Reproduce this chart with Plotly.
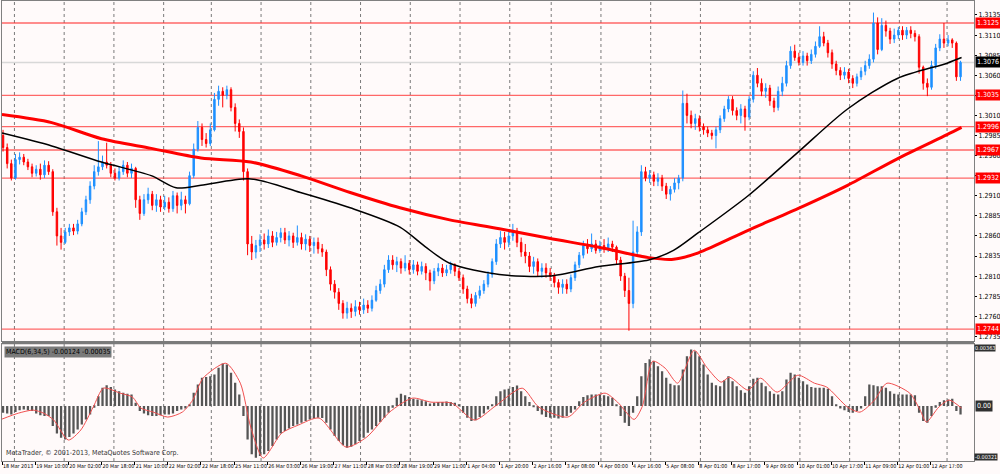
import plotly.graph_objects as go

# 2-hour candles, prices as pips above 1.2700
opens = [
    285, 270, 250, 232, 255, 258, 252, 246, 238, 243,
    236, 248, 240, 190, 160, 152, 165, 170, 166, 175,
    190, 205, 222, 240, 246, 252, 248, 238, 232, 240,
    248, 238, 244, 205, 188, 205, 212, 198, 205, 196,
    202, 194, 210, 198, 205, 200, 235, 268, 295, 280,
    275, 292, 330, 340, 335, 342, 320, 300, 290, 240,
    150, 140, 148, 155, 150, 160, 152, 158, 164, 155,
    160, 152, 158, 150, 156, 148, 152, 144, 140, 118,
    100, 90, 76, 64, 70, 66, 72, 68, 74, 70,
    80, 92, 100, 118, 130, 124, 128, 120, 126, 118,
    124, 116, 122, 114, 104, 116, 120, 114, 118, 124,
    116, 108, 94, 82, 76, 86, 92, 100, 112, 128,
    150, 158, 152, 160, 166, 152, 140, 135, 122, 128,
    116, 120, 114, 110, 102, 96, 100, 94, 108, 124,
    136, 148, 144, 150, 142, 148, 144, 150, 146, 130,
    110, 92, 76, 140, 165, 240, 232, 236, 228, 232,
    222, 212, 218, 226, 232, 325, 310, 300, 306, 296,
    292, 288, 285, 292, 306, 318, 330, 316, 310, 318,
    308, 330, 360, 350, 340, 344, 328, 320, 340, 350,
    372, 390, 382, 376, 384, 378, 386, 396, 408, 400,
    388, 374, 366, 360, 364, 356, 350, 358, 365, 372,
    380, 425, 392, 422, 415, 405, 410, 416, 410, 416,
    412, 408, 370, 350, 345, 372, 394, 405, 400, 404,
    400, 358,
]
highs = [
    292, 275, 255, 262, 264, 262, 256, 250, 248, 250,
    254, 253, 243, 195, 170, 170, 175, 175, 180, 195,
    210, 228, 248, 278, 260, 276, 252, 244, 246, 254,
    252, 250, 246, 210, 212, 220, 216, 212, 210, 210,
    208, 216, 214, 215, 210, 240, 275, 303, 300, 288,
    300, 338, 347, 345, 347, 345, 325, 305, 295, 244,
    160, 155, 162, 163, 168, 166, 165, 170, 170, 166,
    164, 173, 164, 162, 160, 158, 158, 150, 143, 122,
    105, 95, 80, 78, 76, 80, 78, 82, 80, 86,
    98, 106, 124, 136, 136, 134, 132, 136, 130, 130,
    128, 128, 126, 118, 120, 126, 125, 124, 128, 126,
    120, 112, 98, 88, 90, 98, 105, 116, 132, 156,
    166, 165, 167, 175, 170, 158, 150, 140, 134, 132,
    126, 126, 120, 114, 106, 106, 106, 112, 128, 140,
    154, 156, 163, 155, 154, 156, 158, 154, 148, 134,
    114, 108, 179, 172, 248, 246, 242, 240, 238, 236,
    226, 222, 232, 236, 341, 337, 316, 312, 310, 300,
    296, 292, 296, 310, 322, 334, 334, 320, 324, 322,
    334, 365, 369, 356, 350, 348, 332, 346, 358, 378,
    396, 398, 388, 390, 388, 392, 402, 421, 414, 404,
    392, 378, 370, 370, 368, 360, 362, 370, 378, 386,
    438, 432, 431, 428, 419, 418, 420, 421, 420, 421,
    416, 411, 372, 356, 378, 399, 411, 425, 410, 406,
    402, 378,
]
lows = [
    265, 244, 229, 230, 249, 248, 242, 233, 234, 230,
    232, 236, 185, 148, 143, 150, 160, 161, 162, 172,
    186, 200, 218, 235, 242, 244, 233, 229, 229, 236,
    233, 232, 195, 180, 185, 200, 192, 190, 190, 192,
    189, 190, 188, 192, 188, 198, 232, 265, 272, 270,
    272, 290, 322, 320, 330, 315, 290, 282, 229, 136,
    130, 132, 140, 143, 145, 146, 148, 152, 150, 147,
    145, 148, 143, 142, 140, 138, 138, 134, 110, 92,
    82, 68, 57, 57, 58, 60, 62, 63, 64, 66,
    78, 88, 96, 114, 118, 115, 113, 116, 112, 113,
    111, 112, 105, 92, 100, 110, 109, 110, 113, 110,
    104, 88, 76, 70, 72, 82, 88, 96, 108, 124,
    145, 143, 146, 154, 146, 134, 126, 115, 113, 110,
    108, 108, 104, 96, 88, 88, 88, 90, 104, 120,
    132, 138, 140, 138, 139, 139, 140, 140, 124, 104,
    84, 42, 70, 135, 160, 228, 226, 222, 222, 216,
    206, 204, 214, 218, 228, 300, 294, 292, 290, 286,
    283, 280, 269, 288, 302, 314, 310, 304, 300, 291,
    304, 326, 345, 334, 332, 322, 314, 316, 334, 346,
    368, 378, 372, 372, 372, 374, 382, 394, 396, 382,
    368, 360, 354, 355, 350, 344, 346, 354, 360, 368,
    376, 386, 390, 408, 399, 400, 405, 404, 405, 406,
    402, 362, 342, 334, 342, 368, 390, 394, 396, 394,
    353, 353,
]
closes = [
    270, 250, 232, 255, 258, 252, 246, 238, 243, 236,
    248, 240, 190, 160, 152, 165, 170, 166, 175, 190,
    205, 222, 240, 246, 252, 248, 238, 232, 240, 248,
    238, 244, 205, 188, 205, 212, 198, 205, 196, 202,
    194, 210, 198, 205, 200, 235, 268, 295, 280, 275,
    292, 330, 340, 335, 342, 320, 300, 290, 240, 150,
    140, 148, 155, 150, 160, 152, 158, 164, 155, 160,
    152, 158, 150, 156, 148, 152, 144, 140, 118, 100,
    90, 76, 64, 70, 66, 72, 68, 74, 70, 80,
    92, 100, 118, 130, 124, 128, 120, 126, 118, 124,
    116, 122, 114, 104, 116, 120, 114, 118, 124, 116,
    108, 94, 82, 76, 86, 92, 100, 112, 128, 150,
    158, 152, 160, 166, 152, 140, 135, 122, 128, 116,
    120, 114, 110, 102, 96, 100, 94, 108, 124, 136,
    148, 144, 150, 142, 148, 144, 150, 146, 130, 110,
    92, 76, 140, 165, 240, 232, 236, 228, 232, 222,
    212, 218, 226, 232, 325, 310, 300, 306, 296, 292,
    288, 285, 292, 306, 318, 330, 316, 310, 318, 308,
    330, 360, 350, 340, 344, 328, 320, 340, 350, 372,
    390, 382, 376, 384, 378, 386, 396, 408, 400, 388,
    374, 366, 360, 364, 356, 350, 358, 365, 372, 380,
    425, 392, 422, 415, 405, 410, 416, 410, 416, 412,
    408, 370, 350, 345, 372, 394, 405, 400, 404, 400,
    358, 376,
]

# MACD histogram per 2-hour candle, in 1e-5
macd_hist = [
    -40, -45, -50, -35, -25, -20, -25, -30, -45, -55,
    -60, -60, -120, -165, -190, -200, -185, -165, -140, -110,
    -80, -50, -10, 60, 110, 126, 115, 100, 90, 80,
    75, 70, 20, -30, -45, -55, -60, -60, -55, -50,
    -50, -45, -30, -20, -15, 10, 80, 130, 170, 175,
    180, 190, 230, 256, 250, 200, 140, 70, -60, -200,
    -290, -310, -300, -290, -270, -240, -200, -165, -150, -135,
    -120, -110, -100, -90, -80, -75, -70, -72, -100, -140,
    -180, -210, -235, -250, -245, -230, -210, -190, -160, -140,
    -120, -95, -70, -40, -10, 50, 74, 65, 55, 45,
    40, 35, 30, 15, 20, 25, 25, 28, 25, 20,
    10, -40, -70, -90, -85, -65, -45, -20, 10, 60,
    90, 100, 105, 115, 124, 90, 60, 25, -5, -30,
    -50, -65, -70, -70, -75, -70, -60, -40, -20, 30,
    55, 65, 70, 70, 68, 65, 60, 50, 10, -60,
    -100, -120, -40, 60, 180, 260, 282, 270, 240, 210,
    170, 135, 125, 125, 220, 300, 340, 330, 300, 250,
    190, 140, 125, 120, 155, 180, 150, 120, 95, 80,
    120, 165, 170, 140, 120, 90, 75, 70, 90, 160,
    200, 190, 170, 150, 130, 115, 110, 110, 110, 105,
    60, 10, -15, -25, -35, -40, -30, -15, 60, 130,
    125, 120, 120, 110, 90, 75, 70, 70, 70, 70,
    65, -40, -90, -100, -60, -10, 25, 35, 40, 45,
    -30, -50,
]

# MACD signal line (hour bar, 1e-5)
signal_bars = [0, 8, 15, 20, 25, 32, 38, 44, 49, 57, 63, 67, 73, 80, 87, 92,
               97, 108, 115, 120, 126, 135, 143, 153, 166, 176, 187, 198, 207,
               217, 228, 238, 251, 259, 273, 281, 291, 297, 305, 309, 314, 320,
               326, 334, 340, 347, 351, 360, 366, 374, 384, 392, 398, 408, 414,
               421, 427, 438, 443, 446, 452, 457, 463]
signal_vals = [-78, -42, -24, -42, -84, -204, -144, -6, 108, 78, 54, -12, -36,
               -66, -36, 36, 168, 258, 138, -126, -312, -162, -114, -72, -246,
               -186, -36, 48, 24, 18, -84, 0, 108, -6, -66, 24, 78, 24, -80, 0,
               270, 228, 138, 336, 234, 144, 174, 96, 168, 84, 186, 138, 114,
               -6, -36, 36, 138, 78, -24, -96, -6, 36, -12]

# moving averages (hour bar, price)
ma_bars = [0, 24, 48, 72, 84, 96, 120, 144, 168, 192, 204, 216, 240, 264, 288,
           312, 324, 336, 360, 384, 408, 432, 456, 463]
ma_fast = [1.2988, 1.2972, 1.2952, 1.2935, 1.2920, 1.2923, 1.2931, 1.2914,
           1.2895, 1.2871, 1.2847, 1.2826, 1.2812, 1.2810, 1.2822, 1.2830,
           1.2842, 1.2864, 1.2910, 1.2964, 1.3018, 1.3056, 1.3075, 1.3082]
slow_bars = [0, 24, 48, 72, 96, 120, 144, 168, 192, 216, 240, 264, 288, 312,
             324, 336, 360, 384, 408, 432, 456, 463]
ma_slow = [1.3011, 1.3001, 1.2981, 1.2969, 1.2957, 1.2952, 1.2935, 1.2914,
           1.2895, 1.2880, 1.2869, 1.2857, 1.2846, 1.2833, 1.2831, 1.2839,
           1.2867, 1.2894, 1.2923, 1.2956, 1.2986, 1.2995]

level_prices = [1.3125, 1.3035, 1.2996, 1.2967, 1.2932, 1.2744]
last_price = 1.3076
macd_labels = ["0.00363", "0.00", "-0.00321"]

time_labels = ["18 Mar 2013", "19 Mar 10:00", "20 Mar 02:00", "20 Mar 18:00",
               "21 Mar 10:00", "22 Mar 02:00", "22 Mar 18:00", "25 Mar 11:00",
               "26 Mar 03:00", "26 Mar 19:00", "27 Mar 11:00", "28 Mar 03:00",
               "28 Mar 19:00", "29 Mar 11:00", "1 Apr 04:00", "1 Apr 20:00",
               "2 Apr 16:00", "3 Apr 08:00", "4 Apr 00:00", "4 Apr 16:00",
               "5 Apr 08:00", "8 Apr 01:00", "8 Apr 17:00", "9 Apr 09:00",
               "10 Apr 01:00", "10 Apr 17:00", "11 Apr 09:00", "12 Apr 01:00",
               "12 Apr 17:00"]
label_bars = [16 * k for k in range(len(time_labels))]
grid_bars = [6, 30, 54, 78, 101, 125, 149, 173, 197, 221, 245, 265, 289, 313,
             337, 361, 385, 409, 433, 456]


def to_price(p):
    return 1.27 + p / 10000.0


candle_x = [2 * j + 0.5 for j in range(len(closes))]
FONT = "Liberation Sans Narrow, DejaVu Sans Condensed, Arial Narrow, Liberation Sans, sans-serif"
BG = "#fffafa"
FRAME = "#808080"

fig = go.Figure()

fig.add_trace(
    go.Candlestick(
        x=candle_x,
        open=[to_price(v) for v in opens],
        high=[to_price(v) for v in highs],
        low=[to_price(v) for v in lows],
        close=[to_price(v) for v in closes],
        increasing=dict(line=dict(color="#1e90ff", width=1), fillcolor="#1e90ff"),
        decreasing=dict(line=dict(color="#ff0000", width=1), fillcolor="#ff0000"),
        whiskerwidth=0,
        xaxis="x",
        yaxis="y",
    )
)
fig.add_trace(
    go.Scatter(
        x=slow_bars, y=ma_slow, mode="lines",
        line=dict(color="#ff0000", width=3, shape="spline", smoothing=0.8),
        xaxis="x", yaxis="y",
    )
)
fig.add_trace(
    go.Scatter(
        x=ma_bars, y=ma_fast, mode="lines",
        line=dict(color="#000000", width=1.5, shape="spline", smoothing=0.8),
        xaxis="x", yaxis="y",
    )
)

# MACD pane
fig.add_trace(
    go.Bar(
        x=candle_x,
        y=[v / 100000.0 for v in macd_hist],
        width=1.1,
        marker=dict(color="#555555", line=dict(width=0)),
        xaxis="x2",
        yaxis="y2",
    )
)
fig.add_trace(
    go.Scatter(
        x=signal_bars,
        y=[v / 100000.0 for v in signal_vals],
        mode="lines",
        line=dict(color="#f05050", width=1, shape="spline", smoothing=0.7),
        xaxis="x2",
        yaxis="y2",
    )
)

shapes = []
# dotted day separators through both panes
for b in grid_bars:
    shapes.append(dict(type="line", xref="x", yref="paper", x0=b, x1=b, y0=0, y1=1,
                       line=dict(color="#7a7a7a", width=1, dash="dot"), layer="below"))
# horizontal levels
for lv in level_prices:
    shapes.append(dict(type="line", xref="x domain", yref="y", x0=0, x1=1, y0=lv, y1=lv,
                       line=dict(color="rgba(255,40,40,0.7)", width=1.4), layer="below"))
shapes.append(dict(type="line", xref="x domain", yref="y", x0=0, x1=1,
                   y0=last_price, y1=last_price,
                   line=dict(color="#d8d8d8", width=1.5), layer="below"))
# pane separator
shapes.append(dict(type="rect", xref="paper", yref="paper", x0=0, x1=1,
                   y0=0.2538, y1=0.2603, fillcolor="#7a7a7a", line=dict(width=0)))

label_font = dict(family=FONT, size=7, color="#ffffff")
small_font = dict(family=FONT, size=5.5, color="#ffffff")
annotations = []
for lv in level_prices:
    annotations.append(dict(xref="paper", yref="y", x=1, y=lv, xanchor="left",
                            xshift=1, text=f"{lv:.4f}", showarrow=False,
                            bgcolor="#ff0000", borderpad=1, font=label_font))
annotations.append(dict(xref="paper", yref="y", x=1, y=last_price, xanchor="left",
                        xshift=1, text=f"{last_price:.4f}", showarrow=False,
                        bgcolor="#000000", borderpad=1, font=label_font))
annotations.append(dict(xref="paper", yref="y2 domain", x=1, y=1, xanchor="left",
                        yanchor="top", xshift=0, text=macd_labels[0], showarrow=False,
                        bgcolor="#303030", borderpad=0, font=small_font))
annotations.append(dict(xref="paper", yref="y2", x=1, y=0, xanchor="left",
                        xshift=1, text=macd_labels[1], showarrow=False,
                        bgcolor="#303030", borderpad=1, font=label_font))
annotations.append(dict(xref="paper", yref="y2 domain", x=1, y=0, xanchor="left",
                        yanchor="bottom", xshift=0, text=macd_labels[2], showarrow=False,
                        bgcolor="#303030", borderpad=0, font=small_font))
annotations.append(dict(xref="paper", yref="y2 domain", x=0, y=1, xanchor="left",
                        yanchor="top", xshift=2, yshift=-2,
                        text="MACD(6,34,5) -0.00124 -0.00035", showarrow=False,
                        bgcolor="#7a7a7a", borderpad=1,
                        font=dict(family=FONT, size=7, color="#000000")))
annotations.append(dict(xref="paper", yref="y2 domain", x=0, y=0, xanchor="left",
                        yanchor="bottom", xshift=2, yshift=2,
                        text="MetaTrader, \u00a9 2001-2013, MetaQuotes Software Corp.",
                        showarrow=False,
                        font=dict(family=FONT, size=7, color="#333333")))

fig.update_layout(
    width=1000,
    height=474,
    autosize=False,
    margin=dict(l=2, r=21, t=0, b=13),
    paper_bgcolor=BG,
    plot_bgcolor=BG,
    showlegend=False,
    hovermode=False,
    boxgap=0.5,
    font=dict(family=FONT, size=7, color="#000000"),
    shapes=shapes,
    annotations=annotations,
    xaxis=dict(
        domain=[0, 1], range=[0, 469], anchor="y",
        showticklabels=False, showgrid=False, zeroline=False,
        showline=True, mirror=True, linecolor=FRAME, linewidth=1,
        rangeslider=dict(visible=False),
    ),
    yaxis=dict(
        domain=[0.2603, 1], range=[1.27289, 1.31524], side="right", anchor="x",
        tick0=1.2735, dtick=0.0025, tickformat=".4f",
        ticks="outside", ticklen=2, tickcolor="#000000",
        tickfont=dict(family=FONT, size=7, color="#000000"),
        showgrid=False, zeroline=False,
        showline=True, mirror=True, linecolor=FRAME, linewidth=1,
    ),
    xaxis2=dict(
        domain=[0, 1], range=[0, 469], anchor="y2", matches="x",
        tickmode="array", tickvals=label_bars, ticktext=time_labels,
        tickangle=0,
        ticks="outside", ticklen=3, tickcolor="#000000",
        ticklabelposition="outside right",
        tickfont=dict(family=FONT, size=5.3, color="#000000"),
        showgrid=False, zeroline=False,
        showline=True, mirror=True, linecolor=FRAME, linewidth=1,
    ),
    yaxis2=dict(
        domain=[0, 0.2538], range=[-0.0033, 0.00372], side="right", anchor="x2",
        showticklabels=False, ticks="", showgrid=False, zeroline=False,
        showline=True, mirror=True, linecolor=FRAME, linewidth=1,
    ),
)

fig.write_html(
    "out.html",
    config={"displayModeBar": False},
    post_script="document.body.style.margin='0px';document.body.style.overflow='hidden';",
)
